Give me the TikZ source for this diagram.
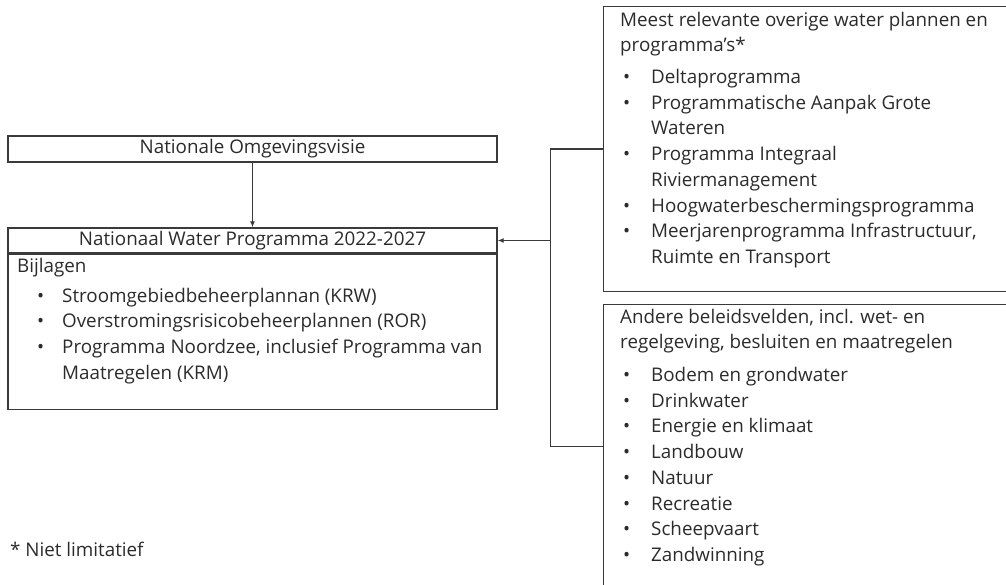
\documentclass[tikz,border=0pt]{standalone}
\usepackage{fontspec}
\setmainfont{Open Sans}
\usetikzlibrary{positioning}
\usetikzlibrary{arrows.meta}
\usepackage{xcolor}

\definecolor{lijn}{HTML}{3A3A3A}
\definecolor{tekst}{HTML}{2B2B2B}

% bullet line: indent, bullet box width, text
\newcommand{\itm}[3]{\hspace*{#1}\makebox[#2][l]{\textbullet}#3}

\tikzset{
  kader/.style={draw=lijn, line width=1.4pt, inner sep=0pt},
  tekstblok/.style={text=tekst, align=left, inner sep=0pt, anchor=north west,
    font=\fontsize{18.8}{25.7}\selectfont},
  titel/.style={kader, text=tekst, minimum width=489, font=\fontsize{18.8}{25.7}\selectfont},
  verbinding/.style={draw=lijn, line width=1.4pt},
  pijl/.style={verbinding, -{Latex[length=6pt,width=5pt]}}
}

\begin{document}
\begin{tikzpicture}[x=1pt, y=-1pt]

\useasboundingbox (0,0) rectangle (1006,585);
\clip (0,0) rectangle (1006,585);

% left column
\node[titel, minimum height=26] (visie) at (252.5,149) {Nationale Omgevingsvisie};
\node[titel, minimum height=25] (nwp) at (252.5,240.5) {Nationaal Water Programma 2022-2027};
\node[kader, anchor=north west, minimum width=489, minimum height=155] (bijlagen) at (nwp.south west) {};

% text tops: baseline minus strut height (18pt)
\node[tekstblok] (bijlagentxt) at (17,254) {\strut Bijlagen\\[4.3pt]
\itm{20pt}{25pt}{Stroomgebiedbeheerplannan (KRW)}\\
\itm{20pt}{25pt}{Overstromingsrisicobeheerplannen (ROR)}\\
\itm{20pt}{25pt}{Programma Noordzee, inclusief Programma van}\\
\hspace*{45pt}Maatregelen (KRM)};

% right column
\node[kader, anchor=north west, minimum width=410, minimum height=285] (overig) at (603,6) {};
\node[tekstblok] (overigtxt) at (620,8) {\strut Meest relevante overige water plannen en\\
programma's*\\[6pt]
\itm{3pt}{28pt}{Deltaprogramma}\\
\itm{3pt}{28pt}{Programmatische Aanpak Grote}\\
\hspace*{31pt}Wateren\\
\itm{3pt}{28pt}{Programma Integraal}\\
\hspace*{31pt}Riviermanagement\\
\itm{3pt}{28pt}{Hoogwaterbeschermingsprogramma}\\
\itm{3pt}{28pt}{Meerjarenprogramma Infrastructuur,}\\
\hspace*{31pt}Ruimte en Transport};

\node[kader, anchor=north west, minimum width=410, minimum height=284] (beleid) at (603,304) {};
\node[tekstblok] (beleidtxt) at (620,305) {\strut Andere beleidsvelden, incl. wet- en\\
regelgeving, besluiten en maatregelen\\[7pt]
\itm{3pt}{28pt}{Bodem en grondwater}\\
\itm{3pt}{28pt}{Drinkwater}\\
\itm{3pt}{28pt}{Energie en klimaat}\\
\itm{3pt}{28pt}{Landbouw}\\
\itm{3pt}{28pt}{Natuur}\\
\itm{3pt}{28pt}{Recreatie}\\
\itm{3pt}{28pt}{Scheepvaart}\\
\itm{3pt}{28pt}{Zandwinning}};

% footnote
\node[tekstblok] (voetnoot) at (10,538) {\strut * Niet limitatief};

% connectors
\coordinate[right=53pt of nwp.east] (knoop);
\draw[pijl] (visie.south) -- (nwp.north);
\path[verbinding] (overig.west) -| (knoop) |- (beleid.west);
\draw[pijl] (knoop) -- (nwp.east);

\end{tikzpicture}
\end{document}
